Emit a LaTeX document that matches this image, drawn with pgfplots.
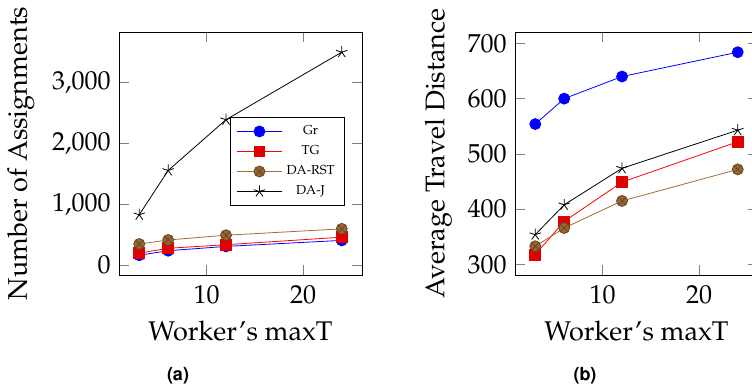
\documentclass[border=0pt]{standalone}
\usepackage[T1]{fontenc}
\usepackage{mathpazo}
\usepackage{pgfplots}
\pgfplotsset{compat=1.18}
\newcommand{\tkf}{\fontsize{13}{15}\selectfont}
\newcommand{\lf}{\fontsize{13.5}{16}\selectfont}
\begin{document}
\begin{tikzpicture}
\useasboundingbox (0,0) rectangle (376pt,-194pt);
\clip (0,0) rectangle (376pt,-194pt);
\pgfplotsset{
  myaxis/.style={
    scale only axis, width=121.5pt, height=121.5pt,
    major tick length=5pt,
    xtick={10,20},
    every tick/.style={gray, thin},
    xmin=0.9, xmax=26.1,
    /pgf/number format/assume math mode=true,
    yticklabel={\tkf\pgfmathprintnumber{\tick}},
    xticklabel={\tkf\pgfmathprintnumber{\tick}},
    yticklabel style={xshift=-0.6pt},
    xticklabel style={yshift=-1.5pt},
    every axis x label/.style={at={(rel axis cs:0.5,0)}, anchor=base, yshift=-32.5pt},
  },
  gr/.style={blue, mark=*, mark size=2.75pt},
  tg/.style={red, mark=square*, mark size=2.7pt, mark options={fill=red!88!black, draw=red!88!black}},
  dar/.style={brown!85!black, mark=otimes*, mark size=2.75pt, mark options={fill=brown!80!black, draw=brown!55!black}},
  daj/.style={black, mark=star, mark size=3pt},
}
\begin{axis}[myaxis, at={(59.5pt,-137.5pt)}, anchor=south west,
  ymin=-165, ymax=3835,
  ytick={0,1000,2000,3000},
  xlabel={\lf Worker's maxT},
  ylabel={\lf Number of Assignments},
  every axis y label/.style={at={(rel axis cs:0,0.5)}, xshift=-46pt, rotate=90, anchor=base},
  legend style={font=\fontsize{6.5}{7.5}\selectfont, at={(0.93,0.65)}, anchor=north east, draw=black},
  legend cell align=center,
  legend image code/.code={\draw[mark repeat=2,mark phase=2] plot coordinates {(0cm,0cm) (0.4cm,0cm) (0.8cm,0cm)};},
]
\addplot[gr] coordinates {(3,160) (6,235) (12,306) (24,405)};
\addplot[tg] coordinates {(3,195) (6,275) (12,334) (24,458)};
\addplot[dar] coordinates {(3,345) (6,412) (12,490) (24,595)};
\addplot[daj] coordinates {(3,827) (6,1556) (12,2392) (24,3503)};
\legend{Gr,TG,DA-RST,DA-J}
\end{axis}
\begin{axis}[myaxis, at={(257.5pt,-137.5pt)}, anchor=south west,
  ymin=281, ymax=720.5,
  ytick={300,400,500,600,700},
  xlabel={\lf Worker's maxT},
  ylabel={\lf Average Travel Distance},
  every axis y label/.style={at={(rel axis cs:0,0.5)}, xshift=-35.3pt, rotate=90, anchor=base},
]
\addplot[gr] coordinates {(3,554) (6,600) (12,640) (24,684)};
\addplot[tg] coordinates {(3,318) (6,378) (12,449) (24,522)};
\addplot[dar] coordinates {(3,333) (6,366) (12,415) (24,472)};
\addplot[daj] coordinates {(3,354) (6,408) (12,474) (24,543)};
\end{axis}
\node[font=\fontfamily{phv}\fontseries{b}\fontsize{9}{10}\selectfont] at (89pt,-188pt) {(a)};
\node[font=\fontfamily{phv}\fontseries{b}\fontsize{9}{10}\selectfont] at (292.5pt,-188pt) {(b)};
\end{tikzpicture}
\end{document}
